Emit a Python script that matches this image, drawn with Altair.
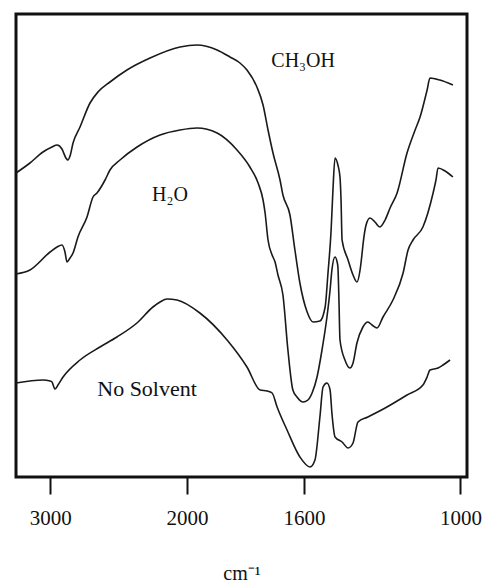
import altair as alt
import pandas as pd

# Wavenumbers (cm-1) and relative transmittance
wn_ch3oh = [3250, 3148, 3053, 2987, 2950, 2914, 2885, 2870, 2855, 2833, 2782, 2709, 2651, 2563, 2439, 2270, 2051,
            1966, 1897, 1853, 1819, 1795, 1761, 1740, 1723, 1706, 1682, 1672, 1648, 1631, 1614, 1588, 1565, 1539,
            1519, 1508, 1496, 1489, 1481, 1470, 1462, 1458, 1454, 1431, 1412, 1397, 1385, 1378, 1374, 1362, 1347,
            1328, 1309, 1289, 1270, 1243, 1205, 1174, 1155, 1128, 1117, 1079, 1029]
t_ch3oh = [304, 314, 325, 330, 332, 328, 319, 317, 321, 334, 350, 374, 385, 395, 407, 419, 430,
           432, 427, 420, 414, 407, 390, 372, 347, 324, 297, 282, 262, 227, 194, 165, 155, 156,
           170, 204, 247, 287, 319, 312, 300, 277, 237, 217, 202, 195, 207, 222, 232, 252, 259,
           255, 250, 257, 269, 284, 324, 347, 360, 387, 399, 397, 392]

wn_h2o = [3250, 3148, 3001, 2950, 2914, 2892, 2877, 2855, 2833, 2797, 2731, 2687, 2658, 2599, 2563, 2490, 2365,
          2197, 2051, 1966, 1897, 1829, 1785, 1757, 1740, 1733, 1723, 1709, 1699, 1689, 1672, 1655, 1638, 1624,
          1603, 1585, 1569, 1550, 1531, 1512, 1500, 1493, 1481, 1473, 1470, 1466, 1462, 1443, 1424, 1412, 1397,
          1374, 1355, 1339, 1320, 1297, 1259, 1220, 1201, 1182, 1144, 1105, 1094, 1086, 1059, 1029]
t_h2o = [203, 207, 225, 230, 232, 225, 215, 219, 224, 240, 260, 280, 284, 297, 307, 317, 330,
         342, 347, 349, 344, 327, 310, 294, 277, 264, 237, 222, 215, 202, 182, 127, 87, 80,
         75, 77, 84, 100, 127, 160, 187, 207, 220, 215, 210, 177, 137, 117, 109, 114, 134,
         150, 155, 152, 149, 160, 177, 204, 227, 237, 250, 284, 297, 309, 306, 300]

wn_nosolv = [3250, 3053, 3001, 2987, 2965, 2943, 2906, 2782, 2636, 2512, 2366, 2249, 2197, 2146, 2073, 1956,
             1863, 1795, 1750, 1726, 1709, 1692, 1658, 1614, 1577, 1558, 1539, 1527, 1512, 1500, 1493, 1481,
             1454, 1431, 1412, 1393, 1355, 1282, 1205, 1144, 1128, 1117, 1086, 1067, 1040]
t_nosolv = [94, 97, 96, 95, 88, 92, 100, 117, 130, 140, 154, 170, 175, 178, 177, 164,
            137, 110, 87, 86, 84, 70, 47, 20, 10, 17, 60, 90, 94, 87, 64, 40,
            35, 29, 34, 55, 60, 70, 82, 92, 100, 107, 109, 112, 117]

series_names = ["CH3OH", "H2O", "No Solvent"]

label_text = ["CH₃OH", "H₂O", "No Solvent"]
label_wn = [1603, 2124, 2292]
label_t = [416, 282, 88]
label_size = [20, 20, 22]

tick_values = [3000, 2000, 1600, 1000]

rows = []
for name, wns, ts in zip(series_names, [wn_ch3oh, wn_h2o, wn_nosolv], [t_ch3oh, t_h2o, t_nosolv]):
    for w, t in zip(wns, ts):
        rows.append({"series": name, "wn": w, "t": t})
df = pd.DataFrame(rows)
labels = pd.DataFrame({"text": label_text, "wn": label_wn, "t": label_t, "size": label_size})

W, H = 451, 463
xscale = alt.Scale(domain=[3250, 2000, 1600, 975], range=[0, 171, 288, W], nice=False, zero=False)
yscale = alt.Scale(domain=[0, H], nice=False, zero=False)

xaxis = alt.Axis(values=tick_values, title="cm⁻¹", grid=False, domain=False,
                 tickSize=17, tickWidth=2, tickColor="#111",
                 labelFont="Liberation Serif", labelFontSize=21, labelColor="#111",
                 labelPadding=13, labelFlush=False, labelOverlap=False,
                 titleFont="Liberation Serif", titleFontSize=20, titleFontWeight="normal",
                 titleColor="#111", titlePadding=35, format="d")

lines = alt.Chart(df).mark_line(color="#1a1a1a", strokeWidth=1.6, interpolate="monotone").encode(
    x=alt.X("wn:Q", scale=xscale, axis=xaxis),
    y=alt.Y("t:Q", scale=yscale, axis=None),
    detail="series:N",
)

texts = alt.Chart(labels).mark_text(font="Liberation Serif", color="#111").encode(
    x=alt.X("wn:Q", scale=xscale),
    y=alt.Y("t:Q", scale=yscale),
    text="text:N",
    size=alt.Size("size:Q", scale=None, legend=None),
)

chart = (lines + texts).properties(
    width=W, height=H,
    autosize=alt.AutoSizeParams(type="none"),
    padding={"left": 16, "top": 14, "right": 16, "bottom": 109},
    background="white",
).configure_view(stroke="#111", strokeWidth=3)

chart.save("out.html", embed_options={"renderer": "svg", "actions": False})
